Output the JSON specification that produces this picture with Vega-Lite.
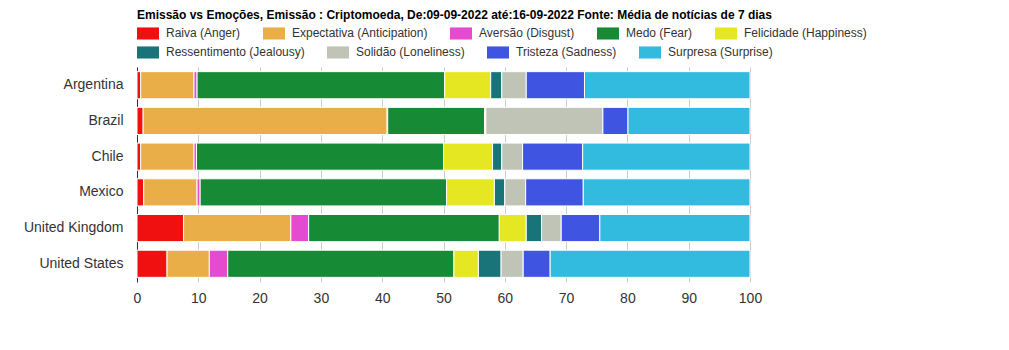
{
  "$schema": "https://vega.github.io/schema/vega-lite/v6.json",
  "autosize": {"type": "none"},
  "width": 613,
  "height": 215,
  "padding": {"left": 137, "top": 67, "right": 259, "bottom": 68},
  "background": "white",
  "config": {
    "font": "Liberation Sans",
    "view": {"stroke": null},
    "legend": {
      "title": null,
      "orient": "none",
      "legendX": 0,
      "direction": "horizontal",
      "columnPadding": 22,
      "symbolType": "M-1,-0.55H1V0.55H-1Z",
      "symbolSize": 484,
      "symbolStrokeWidth": 0,
      "symbolOpacity": 1,
      "labelFont": "Liberation Sans",
      "labelFontSize": 12,
      "labelColor": "#333333",
      "labelOffset": 7,
      "labelLimit": 300,
      "padding": 0
    }
  },
  "title": {
    "text": "Emissão vs Emoções, Emissão : Criptomoeda, De:09-09-2022 até:16-09-2022 Fonte: Média de notícias de 7 dias",
    "anchor": "start",
    "font": "Liberation Sans",
    "fontSize": 12,
    "fontWeight": "bold",
    "color": "#000000",
    "offset": 0,
    "frame": "group"
  },
  "data": {
    "values": [
      {"pais": "Argentina", "Raiva (Anger)": 0.6, "Expectativa (Anticipation)": 8.7, "Aversão (Disgust)": 0.5, "Medo (Fear)": 40.4, "Felicidade (Happiness)": 7.5, "Ressentimento (Jealousy)": 1.8, "Solidão (Loneliness)": 4.0, "Tristeza (Sadness)": 9.5, "Surpresa (Surprise)": 27.0},
      {"pais": "Brazil", "Raiva (Anger)": 1.0, "Expectativa (Anticipation)": 39.8, "Aversão (Disgust)": 0.1, "Medo (Fear)": 15.8, "Felicidade (Happiness)": 0.2, "Ressentimento (Jealousy)": 0.0, "Solidão (Loneliness)": 19.1, "Tristeza (Sadness)": 4.1, "Surpresa (Surprise)": 19.9},
      {"pais": "Chile", "Raiva (Anger)": 0.6, "Expectativa (Anticipation)": 8.7, "Aversão (Disgust)": 0.4, "Medo (Fear)": 40.3, "Felicidade (Happiness)": 8.0, "Ressentimento (Jealousy)": 1.5, "Solidão (Loneliness)": 3.4, "Tristeza (Sadness)": 9.8, "Surpresa (Surprise)": 27.3},
      {"pais": "Mexico", "Raiva (Anger)": 1.1, "Expectativa (Anticipation)": 8.7, "Aversão (Disgust)": 0.5, "Medo (Fear)": 40.2, "Felicidade (Happiness)": 7.8, "Ressentimento (Jealousy)": 1.7, "Solidão (Loneliness)": 3.4, "Tristeza (Sadness)": 9.4, "Surpresa (Surprise)": 27.2},
      {"pais": "United Kingdom", "Raiva (Anger)": 7.6, "Expectativa (Anticipation)": 17.5, "Aversão (Disgust)": 2.9, "Medo (Fear)": 31.1, "Felicidade (Happiness)": 4.4, "Ressentimento (Jealousy)": 2.5, "Solidão (Loneliness)": 3.2, "Tristeza (Sadness)": 6.3, "Surpresa (Surprise)": 24.5},
      {"pais": "United States", "Raiva (Anger)": 4.9, "Expectativa (Anticipation)": 6.9, "Aversão (Disgust)": 3.0, "Medo (Fear)": 36.9, "Felicidade (Happiness)": 4.0, "Ressentimento (Jealousy)": 3.7, "Solidão (Loneliness)": 3.6, "Tristeza (Sadness)": 4.4, "Surpresa (Surprise)": 32.6}
    ]
  },
  "transform": [
    {"fold": ["Raiva (Anger)", "Expectativa (Anticipation)", "Aversão (Disgust)", "Medo (Fear)", "Felicidade (Happiness)", "Ressentimento (Jealousy)", "Solidão (Loneliness)", "Tristeza (Sadness)", "Surpresa (Surprise)"], "as": ["emocao", "valor"]},
    {"stack": "valor", "groupby": ["pais"], "as": ["x0", "x1"]}
  ],
  "encoding": {
    "y": {
      "field": "pais",
      "type": "nominal",
      "sort": ["Argentina", "Brazil", "Chile", "Mexico", "United Kingdom", "United States"],
      "scale": {"paddingInner": 0.24, "paddingOuter": 0.13},
      "axis": {
        "title": null,
        "ticks": false,
        "grid": false,
        "domain": true,
        "domainColor": "#333333",
        "domainWidth": 1,
        "labelFont": "Liberation Sans",
        "labelFontSize": 14,
        "labelColor": "#333333",
        "labelPadding": 14
      }
    },
    "x": {
      "field": "x0",
      "type": "quantitative",
      "scale": {"domain": [0, 100], "nice": false},
      "axis": {
        "title": null,
        "values": [0, 10, 20, 30, 40, 50, 60, 70, 80, 90, 100],
        "ticks": false,
        "domain": false,
        "grid": true,
        "gridColor": "#cccccc",
        "gridWidth": 1,
        "labelFont": "Liberation Sans",
        "labelFontSize": 14,
        "labelColor": "#333333",
        "labelPadding": 9,
        "labelFlush": false
      }
    },
    "x2": {"field": "x1"}
  },
  "layer": [
    {
      "transform": [{"filter": {"field": "emocao", "oneOf": ["Raiva (Anger)", "Expectativa (Anticipation)", "Aversão (Disgust)", "Medo (Fear)", "Felicidade (Happiness)"]}}],
      "mark": {"type": "bar", "stroke": "white", "strokeWidth": 1},
      "encoding": {
        "color": {
          "field": "emocao",
          "type": "nominal",
          "scale": {
            "domain": ["Raiva (Anger)", "Expectativa (Anticipation)", "Aversão (Disgust)", "Medo (Fear)", "Felicidade (Happiness)"],
            "range": ["#f01010", "#e9ae48", "#e44bd0", "#168a34", "#e6e723"]
          },
          "legend": {"legendY": -45, "columns": 5}
        }
      }
    },
    {
      "transform": [{"filter": {"field": "emocao", "oneOf": ["Ressentimento (Jealousy)", "Solidão (Loneliness)", "Tristeza (Sadness)", "Surpresa (Surprise)"]}}],
      "mark": {"type": "bar", "stroke": "white", "strokeWidth": 1},
      "encoding": {
        "color": {
          "field": "emocao",
          "type": "nominal",
          "scale": {
            "domain": ["Ressentimento (Jealousy)", "Solidão (Loneliness)", "Tristeza (Sadness)", "Surpresa (Surprise)"],
            "range": ["#19747a", "#c0c4b6", "#3f55e2", "#33bbdf"]
          },
          "legend": {"legendY": -26, "columns": 4}
        }
      }
    }
  ],
  "resolve": {"scale": {"color": "independent"}, "legend": {"color": "independent"}}
}
